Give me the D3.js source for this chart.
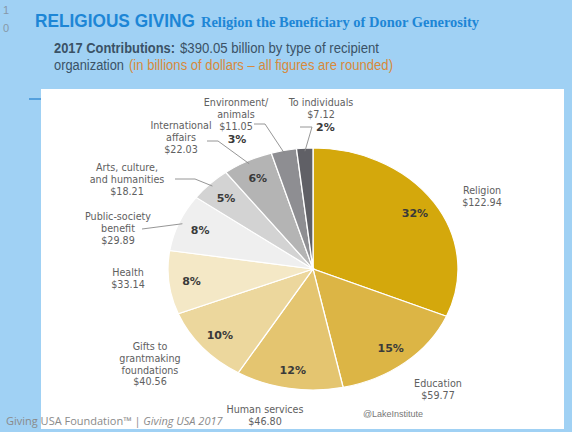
<!DOCTYPE html>
<html><head><meta charset="utf-8">
<script src="https://cdn.jsdelivr.net/npm/d3@7"></script>
<style>body{margin:0;background:#a0d1f4;overflow:hidden} svg{display:block}</style>
</head><body><svg id="c" width="572" height="432"></svg>
<script>
const categories = ["Religion","Education","Human services","Gifts to grantmaking foundations","Health","Public-society benefit","Arts, culture, and humanities","International affairs","Environment/animals","To individuals"];
const values = [122.94,59.77,46.80,40.56,33.14,29.89,18.21,22.03,11.05,7.12];
const percents = ["32%","15%","12%","10%","8%","8%","5%","6%","3%","2%"];
const valueLabels = ["$122.94","$59.77","$46.80","$40.56","$33.14","$29.89","$18.21","$22.03","$11.05","$7.12"];
const nameLines = [["Religion"],["Education"],["Human services"],["Gifts to","grantmaking","foundations"],["Health"],["Public-society","benefit"],["Arts, culture,","and humanities"],["International","affairs"],["Environment/","animals"],["To individuals"]];
const colors = ["#d4a80c","#dcb545","#e4c570","#ecd79d","#f4e8c6","#efefef","#d3d3d3","#b4b4b4","#8e8e92","#606066"];

// label layout (center x, first baseline y)
const labelPos = [[482,194],[438,387],[265,413],[150,350],[128,276],[118,220],[127,171],[181,129],[236,106],[321,106]];
const outsidePct = {8:[237,143,"middle"],9:[316,131,"start"]};
const leaders = {9:[[300,127],[312,127]], 8:[[254,124],[265,124]], 7:[[207,141],[218,141]], 6:[[175,179],[195,179]], 5:[[142,229]]};

const svg = d3.select("#c");
const W=572,H=432;
svg.append("rect").attr("width",W).attr("height",H).attr("fill","#a0d1f4");
svg.append("rect").attr("x",41).attr("y",89).attr("width",523).attr("height",340).attr("fill","#ffffff");
svg.append("line").attr("x1",29).attr("x2",41).attr("y1",99).attr("y2",99).attr("stroke","#3b8fd6").attr("stroke-width",1.5);

svg.append("text").attr("x",3).attr("y",14).text("1").attr("font-family","Arial, Liberation Sans").attr("font-size",11).attr("fill","#8798a8");
svg.append("text").attr("x",3).attr("y",32).text("0").attr("font-family","Arial, Liberation Sans").attr("font-size",11).attr("fill","#8798a8");

svg.append("text").attr("x",35).attr("y",27).text("RELIGIOUS GIVING")
  .attr("font-family","Liberation Sans, Arial").attr("font-weight","bold").attr("font-size",18).attr("fill","#1d86d6")
  .attr("textLength",160).attr("lengthAdjust","spacingAndGlyphs");
svg.append("text").attr("x",201).attr("y",27).text("Religion the Beneficiary of Donor Generosity")
  .attr("font-family","Liberation Serif, DejaVu Serif").attr("font-weight","bold").attr("font-size",15).attr("fill","#1d86d6")
  .attr("textLength",278).attr("lengthAdjust","spacingAndGlyphs");

const t1 = svg.append("text").attr("y",53).attr("font-family","Liberation Sans, Arial").attr("font-size",14).attr("fill","#3a5266");
t1.append("tspan").attr("x",54).attr("font-weight","bold").attr("textLength",121).attr("lengthAdjust","spacingAndGlyphs").text("2017 Contributions:");
t1.append("tspan").attr("x",180).attr("textLength",199).attr("lengthAdjust","spacingAndGlyphs").text("$390.05 billion by type of recipient");
const t2 = svg.append("text").attr("y",70).attr("font-family","Liberation Sans, Arial").attr("font-size",14).attr("fill","#3a5266");
t2.append("tspan").attr("x",54).attr("textLength",70).attr("lengthAdjust","spacingAndGlyphs").text("organization");
t2.append("tspan").attr("x",129).attr("fill","#d8893a").attr("textLength",264).attr("lengthAdjust","spacingAndGlyphs").text("(in billions of dollars \u2013 all figures are rounded)");

// pie
const cx=313, cy=269, ry=121, rx=145, sx=rx/ry;
const pie = d3.pie().sort(null).value(d=>d)(values);
const arc = d3.arc().innerRadius(0).outerRadius(ry);
const g = svg.append("g").attr("transform",`translate(${cx},${cy}) scale(${sx},1)`);
g.selectAll("path").data(pie).join("path").attr("d",arc)
  .attr("fill",(d,i)=>colors[i]).attr("stroke","#ffffff").attr("stroke-width",1.1);

function edgePoint(d, r){ const a=(d.startAngle+d.endAngle)/2; return [cx+Math.sin(a)*r*sx, cy-Math.cos(a)*r]; }

const font = "DejaVu Sans, Open Sans";
// leader lines
Object.keys(leaders).forEach(k=>{
  const pts = leaders[k].slice(); pts.push(edgePoint(pie[k], ry-3));
  svg.append("path").attr("d",d3.line()(pts)).attr("fill","none").attr("stroke","#8a8a8a").attr("stroke-width",0.9);
});

// percent labels
pie.forEach((d,i)=>{
  let x,y,anchor="middle";
  if(outsidePct[i]){ [x,y,anchor]=outsidePct[i]; }
  else { const p=edgePoint(d,102); x=p[0]; y=p[1]+4.5; }
  svg.append("text").attr("x",x).attr("y",y).attr("text-anchor",anchor).text(percents[i])
    .attr("font-family",font).attr("font-weight","bold").attr("font-size",11).attr("fill","#3a3a3a");
});

// name labels
categories.forEach((c,i)=>{
  const [x,y]=labelPos[i];
  const lines = nameLines[i].concat([valueLabels[i]]);
  lines.forEach((l,j)=>svg.append("text").attr("x",x).attr("y",y+j*11.8).attr("text-anchor","middle")
    .attr("font-family",font).attr("font-size",9.6).attr("fill","#606060").text(l));
});

svg.append("text").attr("x",393).attr("y",417).attr("text-anchor","middle").text("@LakeInstitute")
  .attr("font-family","Liberation Sans, Arial").attr("font-size",9).attr("fill","#777");

const f = svg.append("text").attr("x",6).attr("y",425).attr("font-family","Open Sans, Noto Sans").attr("font-size",11).attr("fill","#8a8a8a");
f.append("tspan").text("Giving USA Foundation\u2122 | ");
f.append("tspan").attr("font-style","italic").text("Giving USA 2017");
</script></body></html>
